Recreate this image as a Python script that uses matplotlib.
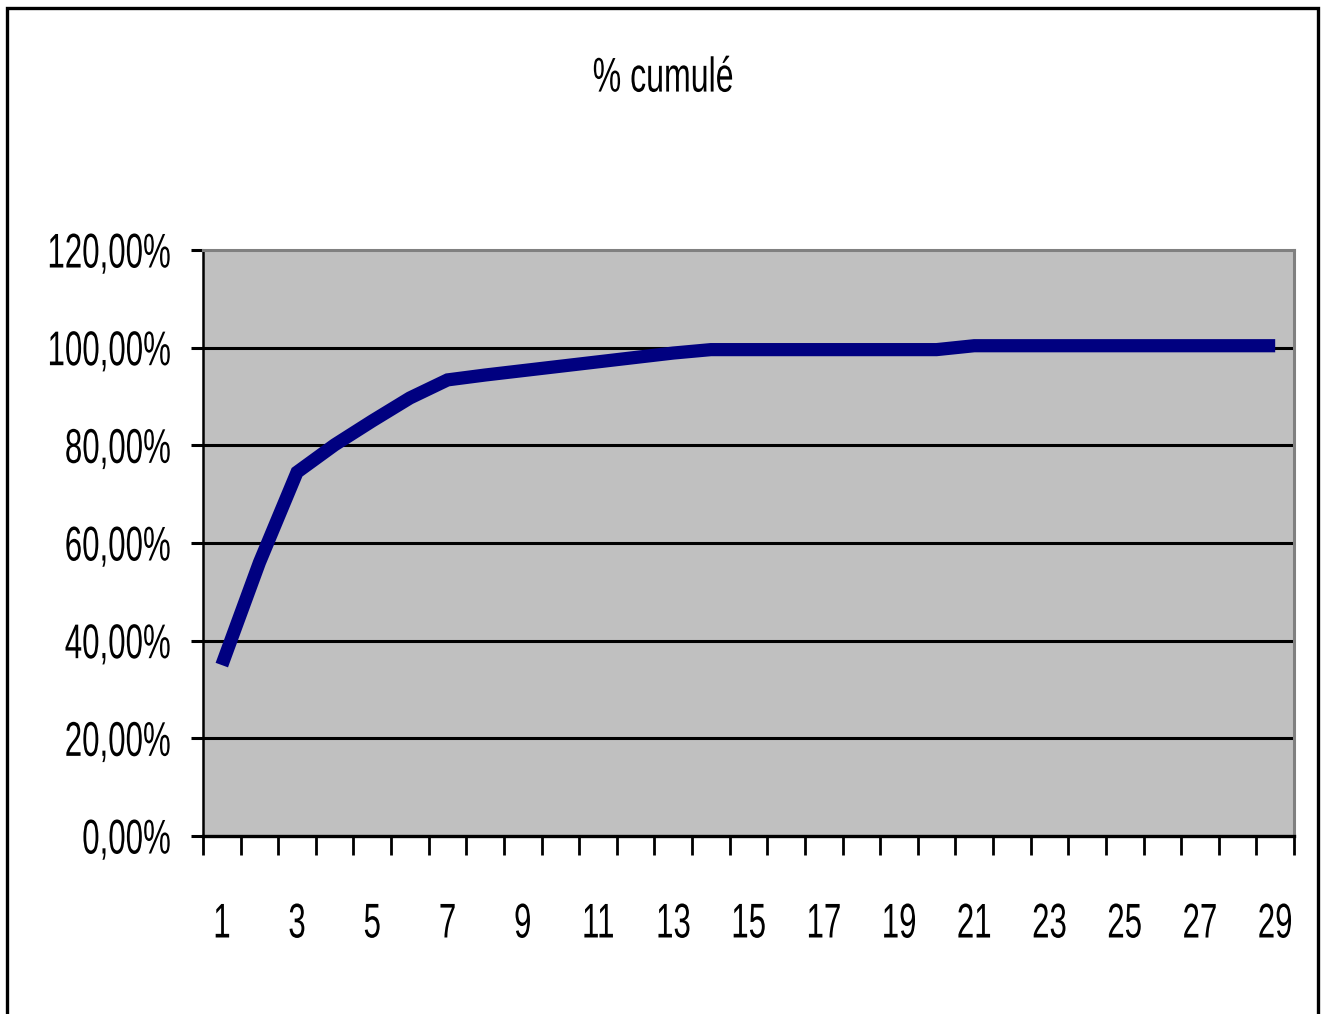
import matplotlib
matplotlib.use("Agg")
import matplotlib.pyplot as plt
from matplotlib.patches import Rectangle
from matplotlib.patheffects import AbstractPathEffect
from matplotlib.ticker import FixedLocator, FuncFormatter
from matplotlib.transforms import Affine2D

# Cumulative share per rank (1..29)
categories = list(range(1, 30))
cumulative = [0.350, 0.560, 0.745, 0.801, 0.850, 0.897, 0.934, 0.944, 0.953,
              0.962, 0.971, 0.980, 0.989, 0.996, 0.996, 0.996, 0.996, 0.996,
              0.996, 0.996, 1.004, 1.004, 1.004, 1.004, 1.004, 1.004, 1.004,
              1.004, 1.004]
y_ticks = [0.0, 0.2, 0.4, 0.6, 0.8, 1.0, 1.2]
x_labels = [str(c) for c in categories if c % 2 == 1]
title = "% cumulé"

plt.rcParams["font.family"] = ["Liberation Sans", "DejaVu Sans"]


class Condensed(AbstractPathEffect):
    """Draw glyphs squeezed horizontally and stretched vertically,
    like a tall narrow typeface."""

    def __init__(self, sx=0.75, sy=1.17, anchor="center"):
        super().__init__()
        self.sx = sx
        self.sy = sy
        self.anchor = anchor

    def draw_path(self, renderer, gc, tpath, affine, rgbFace=None):
        ext = tpath.get_extents()
        if self.anchor == "right":
            cx = ext.x1
        elif self.anchor == "left":
            cx = ext.x0
        else:
            cx = 0.5 * (ext.x0 + ext.x1)
        cy = 0.5 * (ext.y0 + ext.y1)
        squeeze = (Affine2D().translate(-cx, -cy)
                   .scale(self.sx, self.sy).translate(cx, cy))
        renderer.draw_path(gc, tpath, squeeze + affine, rgbFace)


W, H = 1325, 1014
fig = plt.figure(figsize=(W / 100, H / 100), dpi=100)
fig.patch.set_facecolor("white")

# Outer chart frame
fig.patches.append(Rectangle((7.5 / W, -0.05), (1318 - 7.5) / W, 1.05 - 7.5 / H,
                             transform=fig.transFigure, fill=False,
                             edgecolor="black", linewidth=2.4, zorder=0))

left, right, top, bottom = 203 / W, 1294 / W, 1 - 250 / H, 1 - 836 / H
ax = fig.add_axes([left, bottom, right - left, top - bottom])
ax.set_facecolor("#C0C0C0")

ax.set_xlim(0.5, len(categories) + 0.5)
ax.set_ylim(0, 1.2)

for y in y_ticks[1:-1]:
    ax.axhline(y, color="black", linewidth=2.2, zorder=1)

ax.plot(categories, cumulative, color="#000080", linewidth=9.5,
        solid_capstyle="butt", solid_joinstyle="miter", zorder=3)

for side in ["top", "right"]:
    ax.spines[side].set_color("#808080")
    ax.spines[side].set_linewidth(2.2)
ax.spines["left"].set_color("black")
ax.spines["left"].set_linewidth(1.8)
ax.spines["bottom"].set_color("black")
ax.spines["bottom"].set_linewidth(2.4)

fs = 30
sx, sy = 0.75, 1.17
ax.yaxis.set_major_locator(FixedLocator(y_ticks))
ax.yaxis.set_major_formatter(FuncFormatter(
    lambda v, p: f"{v * 100:.2f}".replace(".", ",") + "%"))
ax.tick_params(axis="y", direction="out", length=9, width=2.2,
               color="black", pad=14, labelsize=fs)

# Category boundaries carry the tick marks; odd categories carry the labels
ax.xaxis.set_major_locator(FixedLocator([c - 0.5 for c in categories] +
                                        [len(categories) + 0.5]))
ax.xaxis.set_major_formatter(FuncFormatter(lambda v, p: ""))
ax.tick_params(axis="x", which="major", direction="out", length=14,
               width=2.0, color="black")
ax.xaxis.set_minor_locator(FixedLocator([int(s) for s in x_labels]))
ax.xaxis.set_minor_formatter(FuncFormatter(lambda v, p: f"{int(v)}"))
ax.tick_params(axis="x", which="minor", length=0, pad=49, labelsize=fs)

for lbl in ax.get_yticklabels():
    lbl.set_path_effects([Condensed(sx, sy, "right")])
for lbl in ax.get_xticklabels(minor=True):
    lbl.set_path_effects([Condensed(sx, sy, "center")])

fig.text(663 / W, 1 - 78 / H, title, ha="center", va="center",
         fontsize=fs, color="black",
         path_effects=[Condensed(0.77, sy, "center")])

fig.savefig("out.png", dpi=100)
